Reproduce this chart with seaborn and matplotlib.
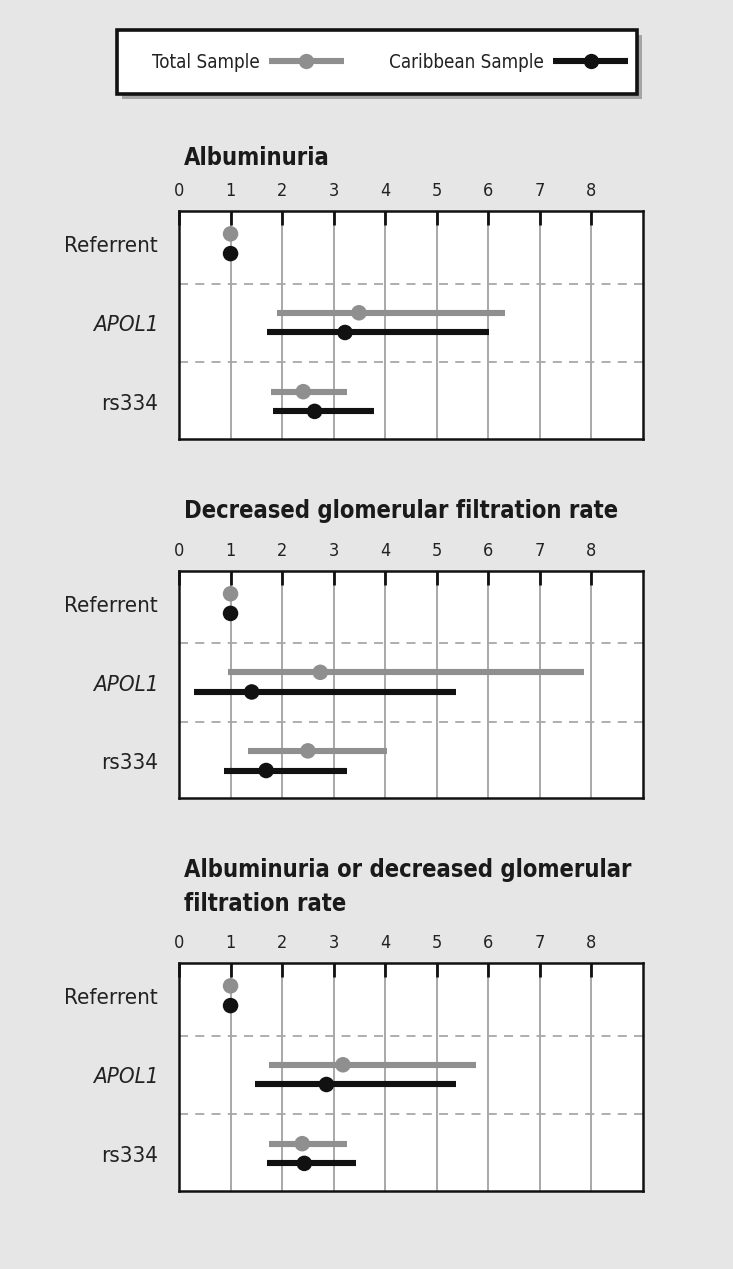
import numpy as np
import pandas as pd
import seaborn as sns
import matplotlib.pyplot as plt
from matplotlib.patches import Rectangle
from matplotlib.lines import Line2D

# ---------------- data ----------------
panel_titles = [
    ["Albuminuria"],
    ["Decreased glomerular filtration rate"],
    ["Albuminuria or decreased glomerular", "filtration rate"],
]
categories = ["Referrent", "APOL1", "rs334"]
series_names = ["Total Sample", "Caribbean Sample"]

# per panel: values for [Referrent, APOL1, rs334]
total_est = [[1.0, 3.49, 2.41], [1.0, 2.74, 2.50], [1.0, 3.18, 2.39]]
total_lo = [[1.0, 1.90, 1.79], [1.0, 0.95, 1.34], [1.0, 1.74, 1.74]]
total_hi = [[1.0, 6.33, 3.25], [1.0, 7.85, 4.03], [1.0, 5.76, 3.25]]
carib_est = [[1.0, 3.22, 2.63], [1.0, 1.41, 1.69], [1.0, 2.86, 2.43]]
carib_lo = [[1.0, 1.71, 1.83], [1.0, 0.30, 0.87], [1.0, 1.48, 1.71]]
carib_hi = [[1.0, 6.02, 3.78], [1.0, 5.37, 3.25], [1.0, 5.37, 3.44]]

x_ticks = [0, 1, 2, 3, 4, 5, 6, 7, 8]
x_tick_labels = ["0", "1", "2", "3", "4", "5", "6", "7", "8"]

rows = []
for p in range(3):
    for c, cat in enumerate(categories):
        rows.append(dict(panel=p, cat=cat, ci=c, series=series_names[0],
                         est=total_est[p][c], lo=total_lo[p][c], hi=total_hi[p][c]))
        rows.append(dict(panel=p, cat=cat, ci=c, series=series_names[1],
                         est=carib_est[p][c], lo=carib_lo[p][c], hi=carib_hi[p][c]))
df = pd.DataFrame(rows)

# ---------------- style ----------------
sns.set_theme(style="white")
plt.rcParams["font.family"] = ["DejaVu Sans"]
plt.rcParams["font.stretch"] = "condensed"

BG = "#e6e6e6"
colors = {series_names[0]: "#8f8f8f", series_names[1]: "#111111"}
offsets = {series_names[0]: -0.13, series_names[1]: 0.12}

W, H = 733, 1269
fig = plt.figure(figsize=(W / 100, H / 100), dpi=100, facecolor=BG)

def fx(px):
    return px / W

def fy(py):
    return 1 - py / H

axes_px = [(211, 439), (571, 798), (963, 1191)]
title_base = [[165], [518], [877, 911]]
left_px, right_px = 179, 643

for p in range(3):
    top, bot = axes_px[p]
    ax = fig.add_axes([fx(left_px), fy(bot), fx(right_px - left_px), (bot - top) / H])
    ax.set_facecolor("white")
    sub_p = df[df.panel == p]
    for s in series_names:
        sub = sub_p[sub_p.series == s]
        yv = sub.ci + offsets[s]
        ax.hlines(yv, sub.lo, sub.hi, color=colors[s], lw=4.4, zorder=3)
        sns.scatterplot(x=sub.est.values, y=yv.values, color=colors[s], s=125,
                        edgecolor="none", ax=ax, zorder=4, legend=False)
    ax.set_xlim(0, 9)
    ax.set_ylim(2.47, -0.42)
    for xv in x_ticks[1:]:
        ax.axvline(xv, color="#a8a8a8", lw=1.4, zorder=0.5)
    for yv in [0.5, 1.5]:
        ax.axhline(yv, color="#a8a8a8", lw=1.3, ls=(0, (5, 4)), zorder=0.5)
    ax.set_xticks(x_ticks)
    ax.set_xticklabels(x_tick_labels)
    ax.xaxis.tick_top()
    ax.tick_params(axis="x", direction="in", length=10, width=2.0, color="#111111",
                   labelsize=13, pad=8, labelcolor="#222222")
    ax.xaxis.set_zorder(6)
    ax.set_yticks(range(len(categories)))
    ax.set_yticklabels(categories)
    ax.tick_params(axis="y", length=0, labelsize=16, pad=15, labelcolor="#222222")
    for lab in ax.get_yticklabels():
        if lab.get_text() == "APOL1":
            lab.set_fontstyle("italic")
    ax.set_xlabel("")
    ax.set_ylabel("")
    for sp in ax.spines.values():
        sp.set_color("#111111")
        sp.set_linewidth(1.8)
    for line, base in zip(panel_titles[p], title_base[p]):
        fig.text(fx(184), fy(base), line, fontsize=17, fontweight="bold",
                 color="#1a1a1a", va="baseline", ha="left")

# ---------------- legend box ----------------
shadow = Rectangle((fx(122), fy(99)), fx(637 - 117), (94 - 30) / H,
                   transform=fig.transFigure, facecolor="#8a8a8a", edgecolor="none",
                   alpha=0.7, zorder=1)
box = Rectangle((fx(117), fy(94)), fx(637 - 117), (94 - 30) / H,
                transform=fig.transFigure, facecolor="white", edgecolor="#111111",
                lw=2.6, zorder=2)
fig.patches.extend([shadow, box])

handles = [Line2D([0], [0], color=colors[s], lw=4.4, marker="o", markersize=11,
                  markeredgewidth=0, solid_capstyle="butt") for s in series_names]
leg = fig.legend(handles, series_names, loc="center",
                 bbox_to_anchor=(fx(390), fy(62)), ncol=2, frameon=False,
                 markerfirst=False, handlelength=4.0, columnspacing=2.4,
                 handletextpad=0.5, fontsize=13.5, numpoints=1)
leg.set_zorder(5)
for t in leg.get_texts():
    t.set_color("#222222")

fig.savefig("out.png", dpi=100, facecolor=BG)
